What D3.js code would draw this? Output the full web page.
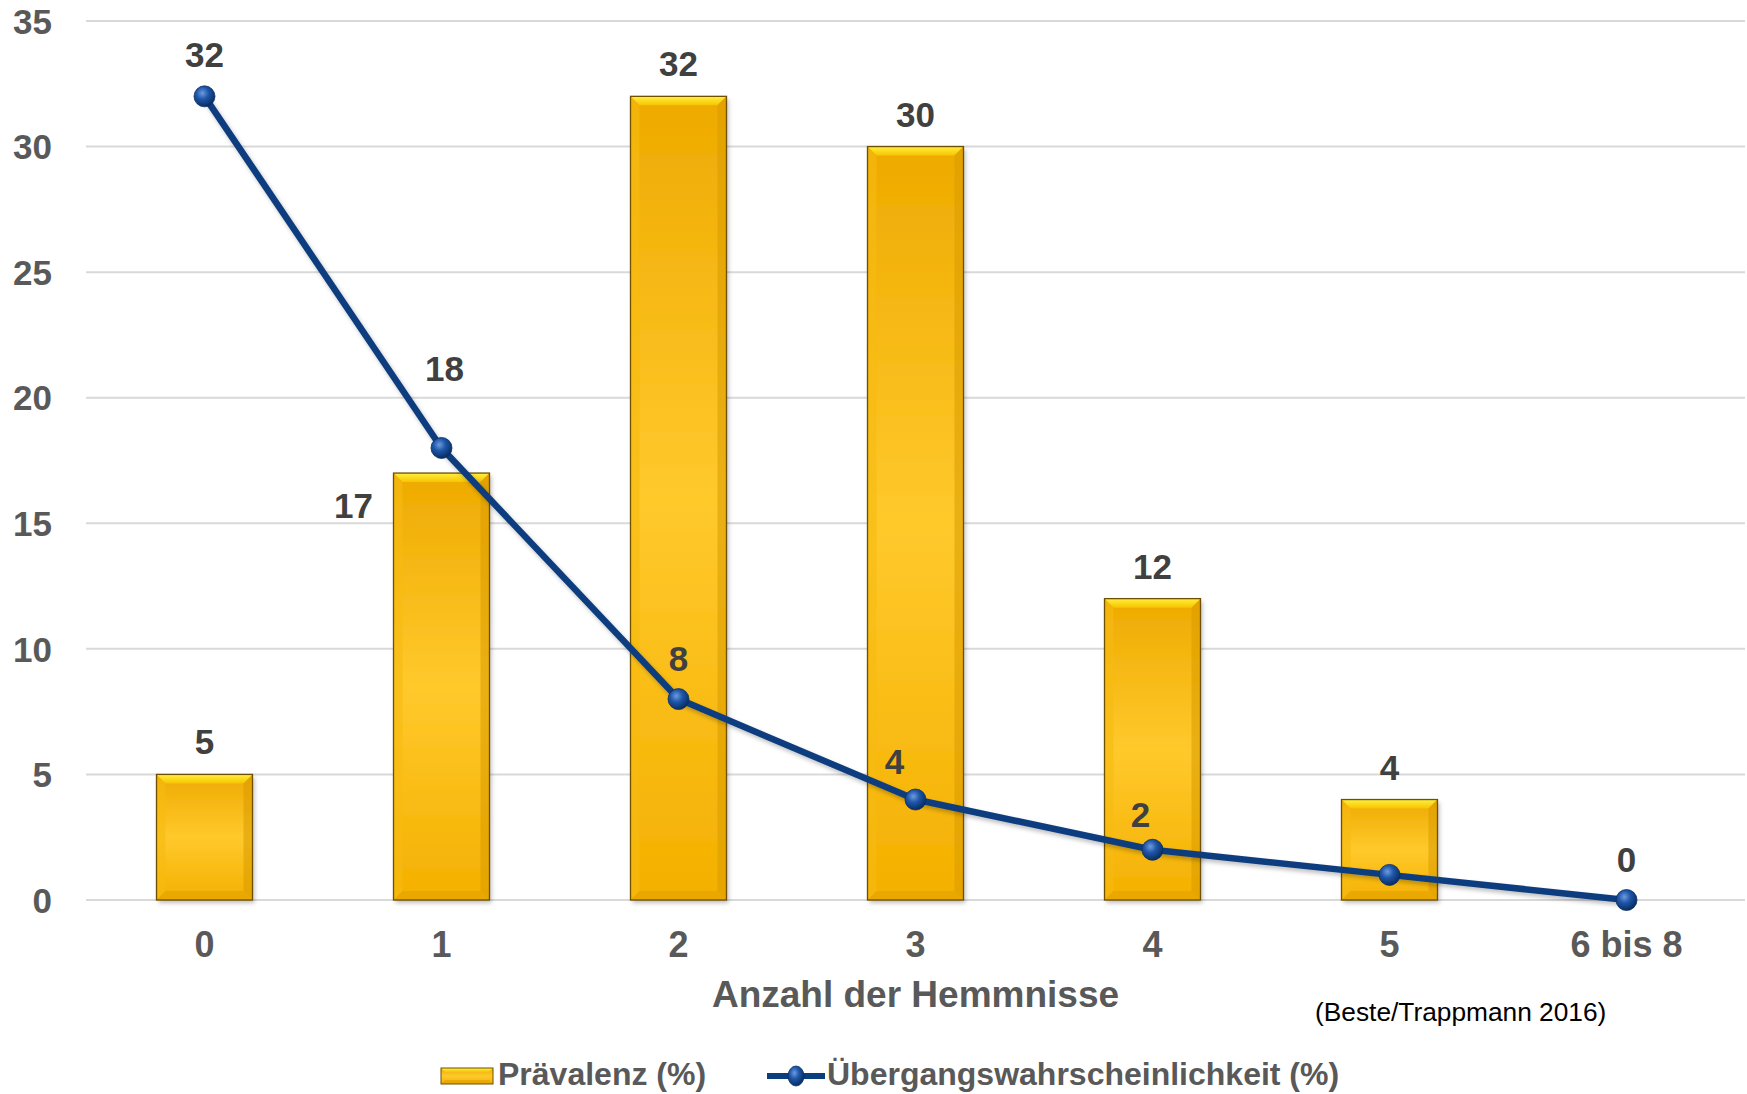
<!DOCTYPE html>
<html>
<head>
<meta charset="utf-8">
<script src="https://cdn.jsdelivr.net/npm/d3@7"></script>
<style>
  body { margin: 0; background: #fff; }
  svg { display: block; font-family: "Liberation Sans", Arial, sans-serif; }
</style>
</head>
<body>
<div id="chart"></div>
<script>
// Werte
var categories = ["0", "1", "2", "3", "4", "5", "6 bis 8"];
var praevalenz = [5, 17, 32, 30, 12, 4, 0];
var uebergang = [32, 18, 8, 4, 2, 1, 0];
var yTicks = [0, 5, 10, 15, 20, 25, 30, 35];

var seriesNames = ["Prävalenz (%)", "Übergangswahrscheinlichkeit (%)"];
var xTitle = "Anzahl der Hemmnisse";
var sourceText = "(Beste/Trappmann 2016)";

var W = 1747, H = 1094;
var plot = {left: 86, right: 1745, top: 21, bottom: 900};

// label nudges (dx, dy) relative to the point / bar top
var lineLabelNudge = {0: [0, -29], 1: [3, -67], 2: [0, -28], 3: [-21, -26], 4: [-12, -23], 5: null, 6: [0, -28]};
var barLabelNudge = {1: [-88, 45]};

var lineColor = "#0b3e7e";
var textGrey = "#595959";
var labelGrey = "#404040";

var svg = d3.select("#chart").append("svg")
    .attr("width", W)
    .attr("height", H);

var defs = svg.append("defs");

var barGrad = defs.append("linearGradient").attr("id", "barFace")
    .attr("x1", 0).attr("y1", 0).attr("x2", 0).attr("y2", 1);
barGrad.append("stop").attr("offset", "0%").attr("stop-color", "#eeaa00");
barGrad.append("stop").attr("offset", "50%").attr("stop-color", "#ffc92c");
barGrad.append("stop").attr("offset", "100%").attr("stop-color", "#f4b000");

var topGrad = defs.append("linearGradient").attr("id", "barTop")
    .attr("x1", 0).attr("y1", 0).attr("x2", 0).attr("y2", 1);
topGrad.append("stop").attr("offset", "0%").attr("stop-color", "#fff040");
topGrad.append("stop").attr("offset", "100%").attr("stop-color", "#f8c400");

var ball = defs.append("radialGradient").attr("id", "ball")
    .attr("cx", "40%").attr("cy", "35%").attr("r", "65%");
ball.append("stop").attr("offset", "0%").attr("stop-color", "#6d9be0");
ball.append("stop").attr("offset", "45%").attr("stop-color", "#1f56a8");
ball.append("stop").attr("offset", "100%").attr("stop-color", "#082d63");

var shadow = defs.append("filter").attr("id", "shadow")
    .attr("x", "-20%").attr("y", "-20%").attr("width", "140%").attr("height", "140%");
shadow.append("feDropShadow")
    .attr("dx", 2).attr("dy", 3).attr("stdDeviation", 2)
    .attr("flood-color", "#000").attr("flood-opacity", 0.25);

var x = d3.scaleBand()
    .domain(categories)
    .range([plot.left, plot.right])
    .paddingInner(0.595)
    .paddingOuter(0.2975);

var y = d3.scaleLinear()
    .domain([0, 35])
    .range([plot.bottom, plot.top]);

function cx(i) { return x(categories[i]) + x.bandwidth() / 2; }

// gridlines
svg.append("g").selectAll("line")
    .data(yTicks)
    .enter().append("line")
    .attr("x1", plot.left).attr("x2", plot.right)
    .attr("y1", function(d) { return y(d); })
    .attr("y2", function(d) { return y(d); })
    .attr("stroke", "#d9d9d9")
    .attr("stroke-width", 2);

// y axis
var yAxis = svg.append("g")
    .attr("transform", "translate(52,0)")
    .call(d3.axisLeft(y).tickValues(yTicks).tickSize(0).tickPadding(0));
yAxis.select(".domain").remove();
yAxis.selectAll("text")
    .attr("fill", textGrey)
    .style("font-size", "35px")
    .style("font-weight", "bold")
    .attr("dy", "0.35em");

// x axis
var xAxis = svg.append("g")
    .attr("transform", "translate(0," + plot.bottom + ")")
    .call(d3.axisBottom(x).tickSize(0).tickPadding(0));
xAxis.select(".domain").remove();
xAxis.selectAll("text")
    .attr("fill", textGrey)
    .attr("y", 57)
    .attr("dy", 0)
    .style("font-size", "36px")
    .style("font-weight", "bold");

// bars
var bars = svg.append("g").selectAll("g.bar")
    .data(praevalenz.map(function(v, i) { return {v: v, i: i}; }).filter(function(d) { return d.v > 0; }))
    .enter().append("g")
    .attr("class", "bar")
    .attr("transform", function(d) { return "translate(" + x(categories[d.i]) + "," + y(d.v) + ")"; });

bars.each(function(d) {
    var g = d3.select(this);
    var w = x.bandwidth(), h = y(0) - y(d.v), b = Math.min(9, h / 2);
    g.append("rect")
        .attr("width", w).attr("height", h)
        .attr("fill", "url(#barFace)")
        .attr("filter", "url(#shadow)");
    g.append("polygon")
        .attr("points", [[0, 0], [w, 0], [w - b, b], [b, b]].join(" "))
        .attr("fill", "url(#barTop)");
    g.append("polygon")
        .attr("points", [[0, 0], [b, b], [b, h - b], [0, h]].join(" "))
        .attr("fill", "#f7bb10").attr("opacity", 0.6);
    g.append("polygon")
        .attr("points", [[w, 0], [w, h], [w - b, h - b], [w - b, b]].join(" "))
        .attr("fill", "#d99a00").attr("opacity", 0.55);
    g.append("polygon")
        .attr("points", [[0, h], [b, h - b], [w - b, h - b], [w, h]].join(" "))
        .attr("fill", "#e0a000").attr("opacity", 0.55);
    g.append("rect")
        .attr("width", w).attr("height", h)
        .attr("fill", "none")
        .attr("stroke", "#6e5000")
        .attr("stroke-width", 1.3);
});

// bar labels
svg.append("g").selectAll("text")
    .data(praevalenz.map(function(v, i) { return {v: v, i: i}; }).filter(function(d) { return d.v > 0; }))
    .enter().append("text")
    .attr("x", function(d) { return cx(d.i) + (barLabelNudge[d.i] ? barLabelNudge[d.i][0] : 0); })
    .attr("y", function(d) { return y(d.v) + (barLabelNudge[d.i] ? barLabelNudge[d.i][1] : -20); })
    .attr("text-anchor", "middle")
    .attr("fill", labelGrey)
    .style("font-size", "35px")
    .style("font-weight", "bold")
    .text(function(d) { return d.v; });

// line
var line = d3.line()
    .x(function(d, i) { return cx(i); })
    .y(function(d) { return y(d); });

svg.append("path")
    .datum(uebergang)
    .attr("d", line)
    .attr("fill", "none")
    .attr("stroke", lineColor)
    .attr("stroke-width", 6.5)
    .attr("stroke-linejoin", "round")
    .attr("filter", "url(#shadow)");

svg.append("g").selectAll("circle")
    .data(uebergang)
    .enter().append("circle")
    .attr("cx", function(d, i) { return cx(i); })
    .attr("cy", function(d) { return y(d); })
    .attr("r", 10.5)
    .attr("fill", "url(#ball)")
    .attr("stroke", "#0a2f66")
    .attr("stroke-width", 0.8);

// line labels
svg.append("g").selectAll("text")
    .data(uebergang.map(function(v, i) { return {v: v, i: i}; }).filter(function(d) { return lineLabelNudge[d.i]; }))
    .enter().append("text")
    .attr("x", function(d) { return cx(d.i) + lineLabelNudge[d.i][0]; })
    .attr("y", function(d) { return y(d.v) + lineLabelNudge[d.i][1]; })
    .attr("text-anchor", "middle")
    .attr("fill", labelGrey)
    .style("font-size", "35px")
    .style("font-weight", "bold")
    .text(function(d) { return d.v; });

// axis title
svg.append("text")
    .attr("x", cx(3))
    .attr("y", 1007)
    .attr("text-anchor", "middle")
    .attr("fill", textGrey)
    .style("font-size", "37px")
    .style("font-weight", "bold")
    .text(xTitle);

// source
svg.append("text")
    .attr("x", 1315)
    .attr("y", 1021)
    .attr("fill", "#000")
    .style("font-size", "26.3px")
    .text(sourceText);

// legend
var leg = svg.append("g");
var lb = leg.append("g").attr("transform", "translate(441,1068)");
var lw = 52, lh = 16, lbv = 4;
lb.append("rect").attr("width", lw).attr("height", lh).attr("fill", "url(#barFace)");
lb.append("polygon").attr("points", [[0, 0], [lw, 0], [lw - lbv, lbv], [lbv, lbv]].join(" ")).attr("fill", "url(#barTop)");
lb.append("polygon").attr("points", [[0, lh], [lbv, lh - lbv], [lw - lbv, lh - lbv], [lw, lh]].join(" ")).attr("fill", "#e0a000").attr("opacity", 0.6);
lb.append("rect").attr("width", lw).attr("height", lh).attr("fill", "none").attr("stroke", "#6e5000").attr("stroke-width", 1);
leg.append("text")
    .attr("x", 498).attr("y", 1085)
    .attr("fill", textGrey)
    .style("font-size", "32px")
    .style("font-weight", "bold")
    .text(seriesNames[0]);

leg.append("line")
    .attr("x1", 767).attr("x2", 825)
    .attr("y1", 1076).attr("y2", 1076)
    .attr("stroke", lineColor)
    .attr("stroke-width", 6);
leg.append("ellipse")
    .attr("cx", 796).attr("cy", 1076)
    .attr("rx", 8).attr("ry", 10)
    .attr("fill", "url(#ball)")
    .attr("stroke", "#0a2f66")
    .attr("stroke-width", 0.8);
leg.append("text")
    .attr("x", 827).attr("y", 1085)
    .attr("fill", textGrey)
    .style("font-size", "32px")
    .style("font-weight", "bold")
    .text(seriesNames[1]);
</script>
</body>
</html>
